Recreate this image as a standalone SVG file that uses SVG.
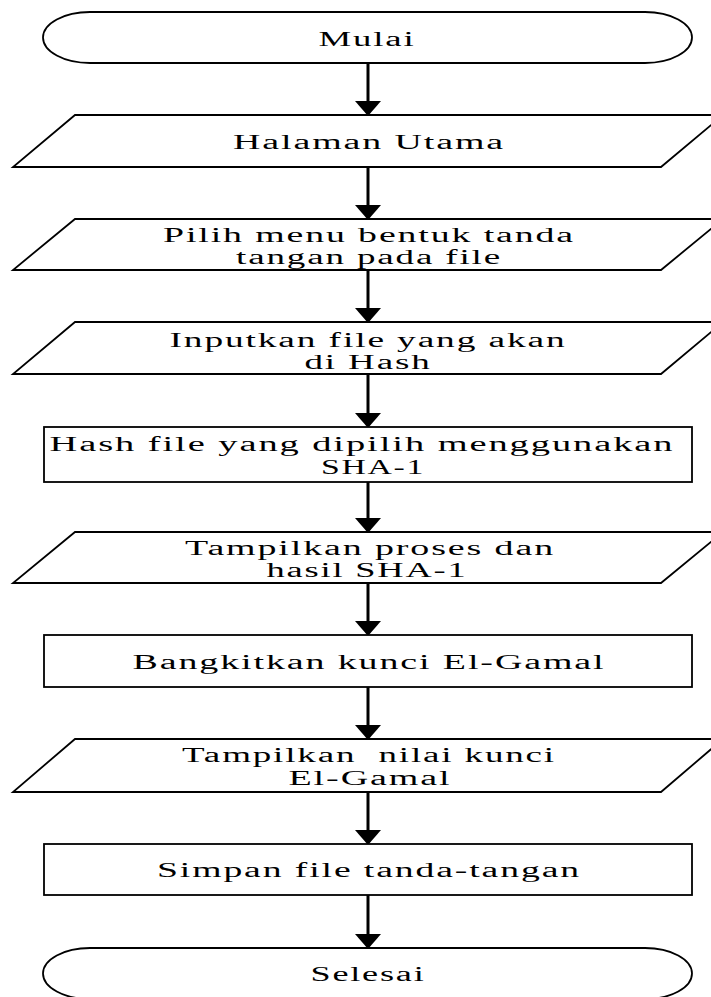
<svg xmlns="http://www.w3.org/2000/svg" width="711" height="997" viewBox="0 0 711 997">
<style>
.shape{fill:#fff;stroke:#000;stroke-width:1.8}
.conn{stroke:#000;stroke-width:3;fill:none}
text{font-family:"Liberation Serif","Times New Roman",serif;font-size:20px;fill:#000;text-anchor:middle;letter-spacing:1px}
</style>
<defs>
<marker id="ah" viewBox="0 0 15 26" refX="0" refY="13" markerWidth="15" markerHeight="26" markerUnits="userSpaceOnUse" orient="auto">
<path d="M0,0 L15,13 L0,26 Z" fill="#000"/>
</marker>
</defs>
<g id="connectors">
<line class="conn" x1="368" y1="63" x2="368" y2="101" marker-end="url(#ah)"/>
<line class="conn" x1="368" y1="167" x2="368" y2="205" marker-end="url(#ah)"/>
<line class="conn" x1="368" y1="270" x2="368" y2="308" marker-end="url(#ah)"/>
<line class="conn" x1="368" y1="374" x2="368" y2="413" marker-end="url(#ah)"/>
<line class="conn" x1="368" y1="482" x2="368" y2="518" marker-end="url(#ah)"/>
<line class="conn" x1="368" y1="583" x2="368" y2="621" marker-end="url(#ah)"/>
<line class="conn" x1="368" y1="687" x2="368" y2="725" marker-end="url(#ah)"/>
<line class="conn" x1="368" y1="792" x2="368" y2="830" marker-end="url(#ah)"/>
<line class="conn" x1="368" y1="895" x2="368" y2="934" marker-end="url(#ah)"/>
</g>
<g id="mulai">
<path class="shape" d="M90,12 H645 A47,25.5 0 0 1 645,63 H90 A47,25.5 0 0 1 90,12 Z"/>
<text x="367" y="46" textLength="97" lengthAdjust="spacingAndGlyphs">Mulai</text>
</g>
<g id="halaman-utama">
<polygon class="shape" points="75,115 723,115 661,167 13,167"/>
<text x="369" y="149" textLength="272" lengthAdjust="spacingAndGlyphs">Halaman Utama</text>
</g>
<g id="pilih-menu">
<polygon class="shape" points="75,219 723,219 661,270 13,270"/>
<text x="369" y="242" textLength="412" lengthAdjust="spacingAndGlyphs">Pilih menu bentuk tanda</text>
<text x="369" y="264" textLength="266" lengthAdjust="spacingAndGlyphs">tangan pada file</text>
</g>
<g id="inputkan">
<polygon class="shape" points="75,322 723,322 661,374 13,374"/>
<text x="368" y="347" textLength="397" lengthAdjust="spacingAndGlyphs">Inputkan file yang akan</text>
<text x="368" y="369" textLength="127" lengthAdjust="spacingAndGlyphs">di Hash</text>
</g>
<g id="hash-sha1">
<rect class="shape" x="44" y="427" width="648" height="55"/>
<text x="362" y="451" textLength="625" lengthAdjust="spacingAndGlyphs">Hash file yang dipilih menggunakan</text>
<text x="373" y="474" textLength="104" lengthAdjust="spacingAndGlyphs">SHA-1</text>
</g>
<g id="tampilkan-proses">
<polygon class="shape" points="75,532 723,532 661,583 13,583"/>
<text x="370" y="555" textLength="370" lengthAdjust="spacingAndGlyphs">Tampilkan proses dan</text>
<text x="367" y="577" textLength="201" lengthAdjust="spacingAndGlyphs">hasil SHA-1</text>
</g>
<g id="bangkitkan">
<rect class="shape" x="44" y="635" width="648" height="52"/>
<text x="369" y="669" textLength="473" lengthAdjust="spacingAndGlyphs">Bangkitkan kunci El-Gamal</text>
</g>
<g id="tampilkan-nilai">
<polygon class="shape" points="75,739 723,739 661,792 13,792"/>
<text x="369" y="762" textLength="374" lengthAdjust="spacingAndGlyphs" xml:space="preserve">Tampilkan  nilai kunci</text>
<text x="370" y="785" textLength="163" lengthAdjust="spacingAndGlyphs">El-Gamal</text>
</g>
<g id="simpan">
<rect class="shape" x="44" y="844" width="648" height="51"/>
<text x="369" y="877" textLength="424" lengthAdjust="spacingAndGlyphs">Simpan file tanda-tangan</text>
</g>
<g id="selesai">
<path class="shape" d="M90,948 H645 A47,25.5 0 0 1 645,999 H90 A47,25.5 0 0 1 90,948 Z"/>
<text x="368" y="981" textLength="115" lengthAdjust="spacingAndGlyphs">Selesai</text>
</g>
</svg>
